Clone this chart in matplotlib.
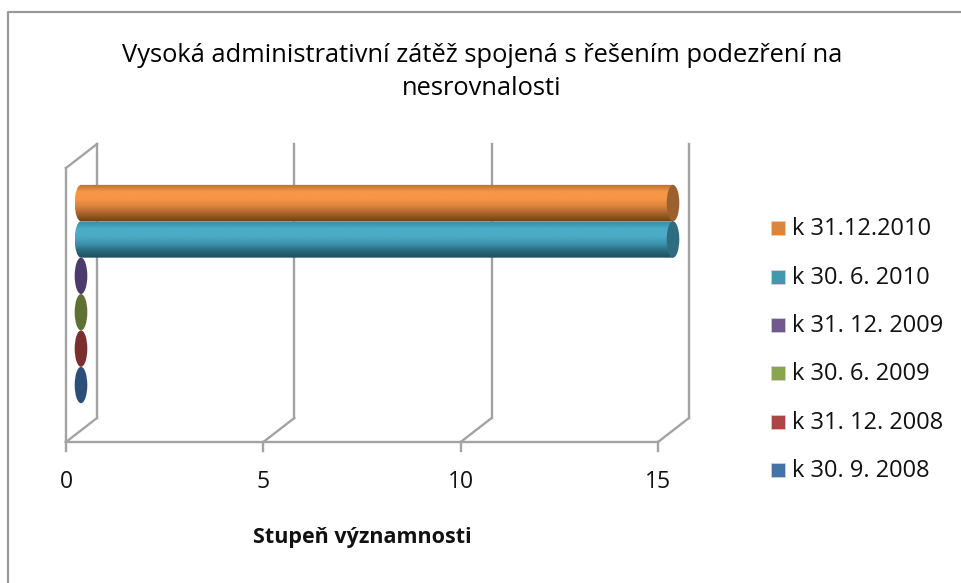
import numpy as np
import matplotlib
matplotlib.use("Agg")
import matplotlib.pyplot as plt
from matplotlib.patches import Ellipse, PathPatch
from matplotlib.path import Path
from matplotlib.colors import LinearSegmentedColormap
from matplotlib.transforms import Affine2D, IdentityTransform

title = "Vysoká administrativní zátěž spojená s řešením podezření na\nnesrovnalosti"
xlabel = "Stupeň významnosti"
series = ["k 30. 9. 2008", "k 31. 12. 2008", "k 30. 6. 2009",
          "k 31. 12. 2009", "k 30. 6. 2010", "k 31.12.2010"]
values = [0, 0, 0, 0, 15, 15]
xticks = [0, 5, 10, 15]
legend_colors = ["#4572A7", "#AA4643", "#89A54E", "#71588F", "#4198AF", "#DB843D"]
cap_colors = ["#2B4F78", "#7A2F2E", "#5F7034", "#4B3A6B", "#2C6E80", "#9C602E"]
grad_colors = {4: ["#338BA3", "#4BACC6", "#4BACC6", "#3F96AE", "#2A6B7F", "#1F4F5E"],
               5: ["#B5702F", "#F79646", "#F79646", "#D9843D", "#A8622A", "#74421A"]}

W, H = 962, 583
plt.rcParams["font.family"] = ["Open Sans", "DejaVu Sans"]
fig = plt.figure(figsize=(W / 100, H / 100), dpi=100, facecolor="white")


def px(x0, ytop, x1, ybot):
    return [x0 / W, 1 - ybot / H, (x1 - x0) / W, (ybot - ytop) / H]


ax = fig.add_axes(px(66, 168, 658, 442))
ax.set_xlim(0, 15)
ax.set_ylim(-1.25, 6.28)
ax.axis("off")
GRAY = "#A3A3A3"
LW = 1.7

# figure border (left and top only)
fig.add_artist(plt.Line2D([8 / W, 8 / W, 1], [0, 1 - 12 / H, 1 - 12 / H],
                          transform=fig.transFigure, color="#999999", lw=1.6))

fig.canvas.draw()
back = ax.transData + Affine2D().translate(31, 24)
mid = ax.transData + Affine2D().translate(15, 11.5)
ymin, ymax = ax.get_ylim()

# walls, floor, ticks
for t in xticks:
    ax.plot([t, t], [ymin, ymax], transform=back, color=GRAY, lw=LW, clip_on=False)
    p0 = ax.transData.transform((t, ymin))
    ax.plot([p0[0], p0[0] + 31], [p0[1], p0[1] + 24], transform=IdentityTransform(),
            color=GRAY, lw=LW, clip_on=False)
    ax.plot([p0[0], p0[0]], [p0[1], p0[1] - 9], transform=IdentityTransform(),
            color=GRAY, lw=LW, clip_on=False)
    ax.text(p0[0], p0[1] - 40, str(t), transform=IdentityTransform(), ha="center",
            va="center", fontsize=16.5, color="#111111")
ax.plot([0, 15], [ymin, ymin], color=GRAY, lw=LW, clip_on=False)
ax.plot([0, 0], [ymin, ymax], color=GRAY, lw=LW, clip_on=False)
p = ax.transData.transform((0, ymax))
ax.plot([p[0], p[0] + 31], [p[1], p[1] + 24], transform=IdentityTransform(),
        color=GRAY, lw=LW, clip_on=False)

# cylinders
RX = 0.16
for i, v in enumerate(values):
    if v > 0:
        cm = LinearSegmentedColormap.from_list("g", grad_colors[i])
        k = 0.5523 * RX
        verts = [(0, i - .5), (-k, i - .5), (-RX, i - .276), (-RX, i), (-RX, i + .276),
                 (-k, i + .5), (0, i + .5), (v, i + .5), (v, i - .5), (0, i - .5)]
        codes = [Path.MOVETO] + [Path.CURVE4] * 6 + [Path.LINETO] * 3
        grad = np.linspace(0, 1, 64)[:, None]
        im = ax.imshow(grad, cmap=cm, aspect="auto", extent=[-RX, v, i - .5, i + .5],
                       origin="upper", transform=mid, interpolation="bilinear",
                       zorder=3 + i)
        clip = PathPatch(Path(verts, codes), transform=mid, fc="none", ec="none")
        ax.add_patch(clip)
        im.set_clip_box(fig.bbox)
        im.set_clip_path(clip)
    ax.add_patch(Ellipse((v, i), 2 * RX, 1.0, transform=mid, fc=cap_colors[i], ec="none",
                         zorder=3 + i, clip_on=False))
ax.set_xlim(0, 15)
ax.set_ylim(ymin, ymax)

# title and axis label
fig.text(482 / W, 1 - 72 / H, title, ha="center", va="center", fontsize=18.4,
         color="#000000", linespacing=1.42)
fig.text(362 / W, 1 - 537 / H, xlabel, ha="center", va="center", fontsize=15.5,
         fontweight="bold", color="#111111")

# legend
leg_y = [470, 422, 373, 325, 277, 228]
for name, c, y in zip(series, legend_colors, leg_y):
    fig.patches.append(plt.Rectangle((771 / W, 1 - (y + 7) / H), 14 / W, 14 / H,
                                     transform=fig.transFigure, fc=c, ec="#D5D5D5", lw=0.5))
    fig.text(792 / W, 1 - (y + 1) / H, name, ha="left", va="center", fontsize=17, color="#111111")

fig.savefig("out.png", dpi=100, facecolor="white")
